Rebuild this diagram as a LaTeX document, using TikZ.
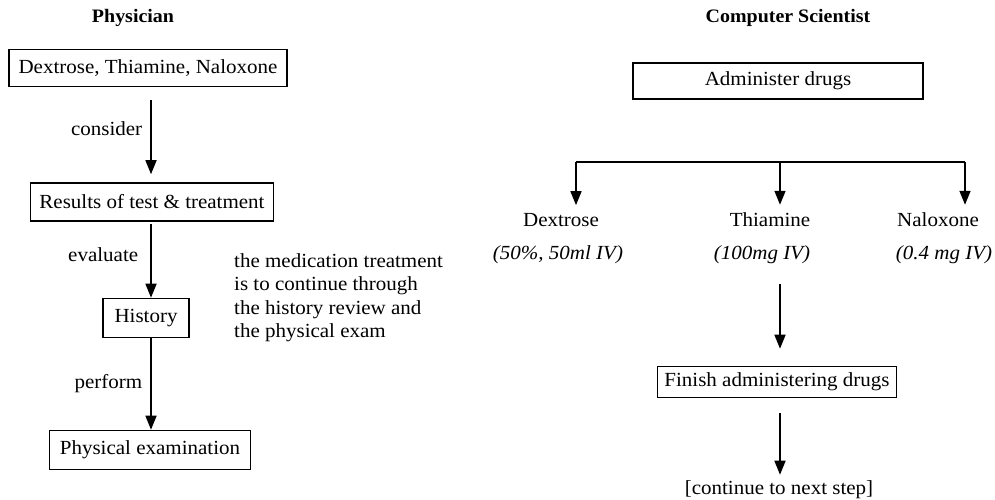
\documentclass[tikz,border=0pt]{standalone}
\usepackage{fontspec}
\setmainfont[FakeStretch=1.05]{Liberation Serif}
\usetikzlibrary{arrows.meta}
\begin{document}
\begin{tikzpicture}[x=1pt,y=-1pt,
  every node/.style={font=\fontsize{20}{23.5}\selectfont, inner sep=0pt},
  box/.style={draw, line width=1.6pt, align=center},
  arr/.style={line width=1.6pt, -{Triangle[length=14pt,width=11pt]}},
  ln/.style={line width=1.6pt}]
\useasboundingbox (0,0) rectangle (995,500);
% headings
\node[font=\fontsize{19}{22}\selectfont\bfseries] (hp) at (133,18) {Physician};
\node[font=\fontsize{19}{22}\selectfont\bfseries] (hc) at (788,18) {Computer Scientist};
% left column
\node[box, minimum width=278, minimum height=37] (d1) at (148,68) {Dextrose, Thiamine, Naloxone};
\node[box, minimum width=243, minimum height=38] (d2) at (152,202) {Results of test \& treatment};
\node[box, minimum width=86, minimum height=39] (d3) at (146,318) {History};
\node[box, minimum width=201, minimum height=39] (d4) at (150,450) {Physical examination};
\coordinate (ax) at (151,0);
\draw[arr] ([yshift=-13]d1.south -| ax) -- node[left=8pt, pos=0.38] (l1) {consider} ([yshift=8]d2.north -| ax);
\draw[arr] ([yshift=-2]d2.south -| ax) -- node[left=12pt, pos=0.42] (l2) {evaluate} (d3.north -| ax);
\draw[arr] (d3.south -| ax) -- node[left=8pt, pos=0.49] (l3) {perform} (d4.north -| ax);
\node[anchor=north west, align=left] (note) at (234,253) {the medication treatment\\is to continue through\\the history review and\\the physical exam};
% right column
\node[box, minimum width=290, minimum height=36] (ad) at (778,81) {Administer drugs};
\coordinate (hl) at (576,162);
\coordinate (hm) at (780,162);
\coordinate (hr) at (965,162);
\draw[ln] (hl) -- (hr);
\node (dx) at (561,220) {Dextrose};
\node (th) at (770,220) {Thiamine};
\node (nx) at (938,220) {Naloxone};
\node[font=\fontsize{20}{23.5}\selectfont\itshape] (dxd) at (558,255) {(50\%, 50ml IV)};
\node[font=\fontsize{20}{23.5}\selectfont\itshape] (thd) at (762,255) {(100mg IV)};
\node[font=\fontsize{20}{23.5}\selectfont\itshape] (nxd) at (944,255) {(0.4 mg IV)};
\draw[arr] (hl) -- ([yshift=8]dx.north -| hl);
\draw[arr] (hm) -- ([yshift=8]th.north -| hm);
\draw[arr] (hr) -- ([yshift=8]nx.north -| hr);
\node[box, minimum width=239, minimum height=31] (fin) at (777,382) {Finish administering drugs};
\node (cont) at (779,490) {[continue to next step]};
\draw[arr] ([yshift=-20]thd.south -| hm) -- ([yshift=17]fin.north -| hm);
\draw[arr] ([yshift=-15]fin.south -| hm) -- ([yshift=6]cont.north -| hm);
\end{tikzpicture}
\end{document}
